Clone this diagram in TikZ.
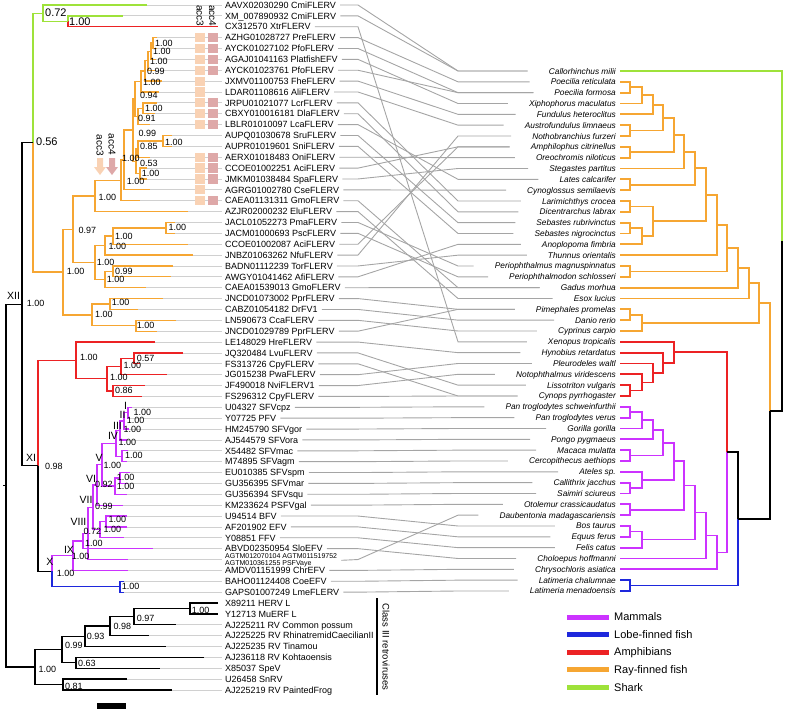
\documentclass[tikz,border=0pt]{standalone}
\usepackage{fontspec}
\setmainfont{Liberation Sans}
\definecolor{grn}{RGB}{158,226,58}
\definecolor{org}{RGB}{246,166,50}
\definecolor{amred}{RGB}{236,34,36}
\definecolor{mag}{RGB}{204,51,255}
\definecolor{blu}{RGB}{30,40,220}
\definecolor{extgray}{RGB}{208,208,208}
\definecolor{conngray}{RGB}{165,165,165}
\definecolor{peach}{RGB}{249,210,180}
\definecolor{pinkbox}{RGB}{222,168,168}
\newcommand\trn[6]{\draw[lt,#1] (#3,#4) -- (#2,#4) -- (#2,#6) -- (#5,#6);}
\newcommand\rtn[6]{\draw[rt,#1] (#3,#4) -- (#2,#4) -- (#2,#6) -- (#5,#6);}
\begin{document}
\begin{tikzpicture}[x=1pt,y=-1pt,
  lt/.style={line width=1.3pt},
  rt/.style={line width=1.8pt},
  ext/.style={draw=extgray, line width=0.8pt},
  conn/.style={draw=conngray, line width=0.9pt},
  lab/.style={font=\fontsize{9}{10}\selectfont, inner sep=0pt, anchor=west, text height=6.5pt, text depth=0pt},
  sp/.style={font=\fontsize{8.3}{9}\selectfont\itshape, inner sep=0pt, anchor=east, text height=6pt, text depth=0pt},
  sup/.style={font=\fontsize{9}{10}\selectfont, inner sep=0pt, anchor=west, text height=6.4pt, text depth=0pt},
  supb/.style={font=\fontsize{11}{12}\selectfont, inner sep=0pt, anchor=west, text height=7.8pt, text depth=0pt},
  rom/.style={font=\fontsize{10.5}{11}\selectfont, inner sep=0pt, text height=7.5pt, text depth=0pt},
  leg/.style={font=\fontsize{11}{12}\selectfont, inner sep=0pt, anchor=west, text height=7.8pt, text depth=0pt},
  vtxt/.style={font=\fontsize{10}{11}\selectfont, inner sep=0pt, rotate=-90, anchor=west, text height=7pt, text depth=0pt}
]
\useasboundingbox (0,0) rectangle (786,715);

% gray tip extensions (left tree)
\foreach \i/\x in {1/147,2/123,4/157,5/157,6/156,7/155,8/162,9/159,10/157,11/155,12/150,13/172,14/172,15/150,16/147,17/147,18/150,19/140,20/188,21/175,22/175,23/188,24/193,25/173,26/171,27/146,28/163,29/138,30/176,31/157,32/155,33/183,34/140,35/167,36/145,37/142,38/132,39/130,40/129,41/127,42/128,43/127,44/130,45/128,46/127,47/123,48/127,49/127,50/124,51/153,52/128,53/128,54/124,55/124,58/176,59/149,60/166,61/204,62/160,63/127,64/172}
  \draw[ext] (\x,{5+(\i-1)*10.873}) -- (222,{5+(\i-1)*10.873});

% left labels
\foreach \i/\t in {1/AAVX02030290 CmiFLERV,2/XM\_007890932 CmiFLERV,3/CX312570 XtrFLERV,4/AZHG01028727 PreFLERV,5/AYCK01027102 PfoFLERV,6/AGAJ01041163 PlatfishEFV,7/AYCK01023761 PfoFLERV,8/JXMV01100753 FheFLERV,9/LDAR01108616 AliFLERV,10/JRPU01021077 LcrFLERV,11/CBXY010016181 DlaFLERV,12/LBLR01010097 LcaFLERV,13/AUPQ01030678 SruFLERV,14/AUPR01019601 SniFLERV,15/AERX01018483 OniFLERV,16/CCOE01002251 AciFLERV,17/JMKM01038484 SpaFLERV,18/AGRG01002780 CseFLERV,19/CAEA01131311 GmoFLERV,20/AZJR02000232 EluFLERV,21/JACL01052273 PmaFLERV,22/JACM01000693 PscFLERV,23/CCOE01002087 AciFLERV,24/JNBZ01063262 NfuFLERV,25/BADN01112239 TorFLERV,26/AWGY01041462 AfiFLERV,27/CAEA01539013 GmoFLERV,28/JNCD01073002 PprFLERV,29/CABZ01054182 DrFV1,30/LN590673 CcaFLERV,31/JNCD01029789 PprFLERV,32/LE148029 HreFLERV,33/JQ320484 LvuFLERV,34/FS313726 CpyFLERV,35/JG015238 PwaFLERV,36/JF490018 NviFLERV1,37/FS296312 CpyFLERV,38/U04327 SFVcpz,39/Y07725 PFV,40/HM245790 SFVgor,41/AJ544579 SFVora,42/X54482 SFVmac,43/M74895 SFVagm,44/EU010385 SFVspm,45/GU356395 SFVmar,46/GU356394 SFVsqu,47/KM233624 PSFVgal,48/U94514 BFV,49/AF201902 EFV,50/Y08851 FFV,51/ABVD02350954 SloEFV,53/AMDV01151999 ChrEFV,54/BAHO01124408 CoeEFV,55/GAPS01007249 LmeFLERV,56/X89211 HERV L,57/Y12713 MuERF L,58/AJ225211 RV Common possum,59/AJ225225 RV RhinatremidCaecilianII,60/AJ225235 RV Tinamou,61/AJ236118 RV Kohtaoensis,62/X85037 SpeV,63/U26458 SnRV,64/AJ225219 RV PaintedFrog}
  \node[lab] (l\i) at (225,{5+(\i-1)*10.873}) {\t};
\node[font=\fontsize{7}{6.3}\selectfont, inner sep=0pt, anchor=west, align=left] (l52) at (225,560.3) {AGTM012070104 AGTM011519752\\AGTM010361255 PSFVaye};

% right labels
\foreach \j/\t in {1/Callorhinchus milii,2/Poecilia reticulata,3/Poecilia formosa,4/Xiphophorus maculatus,5/Fundulus heteroclitus,6/Austrofundulus limnaeus,7/Nothobranchius furzeri,8/Amphilophus citrinellus,9/Oreochromis niloticus,10/Stegastes partitus,11/Lates calcarifer,12/Cynoglossus semilaevis,13/Larimichthys crocea,14/Dicentrarchus labrax,15/Sebastes rubrivinctus,16/Sebastes nigrocinctus,17/Anoplopoma fimbria,18/Thunnus orientalis,19/Periophthalmus magnuspinnatus,20/Periophthalmodon schlosseri,21/Gadus morhua,22/Esox lucius,23/Pimephales promelas,24/Danio rerio,25/Cyprinus carpio,26/Xenopus tropicalis,27/Hynobius retardatus,28/Pleurodeles waltl,29/Notophthalmus viridescens,30/Lissotriton vulgaris,31/Cynops pyrrhogaster,32/Pan troglodytes schweinfurthii,33/Pan troglodytes verus,34/Gorilla gorilla,35/Pongo pygmaeus,36/Macaca mulatta,37/Cercopithecus aethiops,38/Ateles sp.,39/Callithrix jacchus,40/Saimiri sciureus,41/Otolemur crassicaudatus,42/Daubentonia madagascariensis,43/Bos taurus,44/Equus ferus,45/Felis catus,46/Choloepus hoffmanni,47/Chrysochloris asiatica,48/Latimeria chalumnae,49/Latimeria menadoensis}
  \node[sp] (r\j) at (616,{71+(\j-1)*10.833}) {\t};

% tanglegram connectors
\foreach \i/\j in {1/1,2/1,3/26,4/2,5/3,6/4,7/3,8/5,9/6,10/13,11/14,12/11,13/15,14/16,15/9,16/8,17/10,18/12,19/21,20/22,21/19,22/20,23/8,24/7,25/18,26/17,27/21,28/23,29/24,30/25,31/23,32/27,33/30,34/31,35/28,36/29,37/31,38/32,39/33,40/34,41/35,42/36,43/37,44/38,45/39,46/40,47/41,48/43,49/44,50/45,51/46,52/42,53/47,54/48,55/49}
  \draw[conn] ([xshift=4pt]l\i.east) -- (358,{5+(\i-1)*10.873}) -- (458,{71+(\j-1)*10.833}) -- ([xshift=-21pt]r\j.west);

% acc boxes
\foreach \i in {4,5,6,7,8,9,10,11,12,15,16,17,18,19}
  \fill[peach] (195,{5+(\i-1)*10.873-4.6}) rectangle (205,{5+(\i-1)*10.873+4.6});
\foreach \i in {4,5,6,7,10,11,12,15,16,17,19}
  \fill[pinkbox] (208,{5+(\i-1)*10.873-4.6}) rectangle (218,{5+(\i-1)*10.873+4.6});
\node[vtxt] (h3) at (200,5) {acc3};
\node[vtxt] (h4) at (212.5,5) {acc4};
\node[vtxt] (k3) at (100,134.5) {acc3};
\node[vtxt] (k4) at (112,133.5) {acc4};
\fill[peach] (97,158) -- (103,158) -- (103,167) -- (106,167) -- (100,175) -- (94,167) -- (97,167) -- cycle;
\fill[pinkbox] (109,158) -- (115,158) -- (115,167) -- (118,167) -- (112,175) -- (106,167) -- (109,167) -- cycle;

% ---------- left tree ----------
\draw[lt,grn] (123,15.87) -- (68,15.87) -- (68,21.31);
\draw[lt,amred] (68,21.31) -- (68,26.75) -- (218,26.75);
\trn{grn}{43}{147}{5.0}{68}{21.31}
\draw[lt,grn] (43,13.16) -- (33,13.16) -- (33,142.61);
\draw[lt,org] (33,142.61) -- (33,272.07) -- (63,272.07);
% orange
\trn{org}{153}{157}{37.62}{157}{48.49}
\trn{org}{151}{153}{43.06}{156}{59.37}
\trn{org}{148}{151}{51.21}{155}{70.24}
\trn{org}{145}{148}{60.73}{162}{81.11}
\trn{org}{141}{145}{70.92}{159}{91.98}
\trn{org}{143}{157}{102.86}{155}{113.73}
\trn{org}{138}{143}{108.30}{150}{124.60}
\trn{org}{135}{141}{81.45}{138}{116.45}
\trn{org}{163}{172}{135.48}{172}{146.35}
\trn{org}{138}{163}{140.91}{150}{157.22}
\trn{org}{140}{147}{168.10}{147}{178.97}
\trn{org}{136}{138}{149.07}{140}{173.53}
\trn{org}{133}{135}{98.95}{136}{161.30}
\trn{org}{124}{133}{130.13}{150}{189.84}
\trn{org}{121}{124}{159.98}{140}{200.72}
\trn{org}{95}{121}{180.35}{188}{211.59}
\trn{org}{166}{175}{222.46}{175}{233.33}
\trn{org}{113}{166}{227.90}{188}{244.21}
\trn{org}{105}{113}{236.05}{193}{255.08}
\trn{org}{113}{173}{265.95}{171}{276.83}
\trn{org}{105}{113}{271.39}{146}{287.70}
\trn{org}{95}{105}{245.57}{105}{279.54}
\trn{org}{73}{95}{195.97}{95}{262.56}
\trn{org}{110}{163}{298.57}{138}{309.44}
\trn{org}{136}{176}{320.32}{157}{331.19}
\trn{org}{92}{110}{304.01}{136}{325.75}
\trn{org}{63}{73}{229.26}{92}{314.88}
% red
\trn{amred}{134}{183}{352.94}{140}{363.81}
\trn{amred}{121}{134}{358.37}{167}{374.68}
\trn{amred}{113}{145}{385.56}{142}{396.43}
\trn{amred}{107}{121}{366.53}{113}{391.0}
\trn{amred}{76}{155}{342.06}{107}{378.76}
\draw[lt,amred] (76,360.41) -- (38,360.41) -- (38,465.81);
\draw[lt,black] (38,465.81) -- (38,571.21) -- (52,571.21);
% magenta
\trn{mag}{128}{132}{407.30}{130}{418.17}
\trn{mag}{124}{128}{412.74}{129}{429.05}
\trn{mag}{120}{124}{420.89}{127}{439.92}
\trn{mag}{122}{128}{450.79}{127}{461.67}
\trn{mag}{116}{120}{430.41}{122}{456.23}
\trn{mag}{120}{130}{472.54}{128}{483.41}
\trn{mag}{115}{120}{477.98}{127}{494.28}
\trn{mag}{102}{116}{443.32}{115}{486.13}
\trn{mag}{97}{102}{464.72}{123}{505.16}
\trn{mag}{106}{127}{516.03}{127}{526.90}
\trn{mag}{100}{106}{521.47}{124}{537.78}
\trn{mag}{93}{97}{484.94}{100}{529.62}
\trn{mag}{88}{93}{507.28}{128}{559.52}
\trn{mag}{83}{88}{533.40}{153}{548.65}
\trn{mag}{73}{83}{541.03}{128}{570.39}
\draw[lt,mag] (73,555.71) -- (52,555.71) -- (52,571.21);
\draw[lt,blu] (52,571.21) -- (52,586.70) -- (120,586.70);
\trn{blu}{120}{124}{581.27}{124}{592.14}
% black backbone
\draw[lt,black] (33,142.61) -- (22,142.61) -- (22,465.81) -- (38,465.81);
\draw[lt,black] (22,304.21) -- (6,304.21) -- (6,667.07) -- (35,667.07);
\draw[lt,black] (3,485.6) -- (6,485.6);
% class III
\trn{black}{190}{218}{603.01}{218}{613.89}
\trn{black}{134}{190}{608.45}{176}{624.76}
\trn{black}{110}{134}{616.61}{149}{635.63}
\trn{black}{85}{110}{626.12}{166}{646.51}
\trn{black}{76}{204}{657.38}{160}{668.25}
\trn{black}{62}{85}{636.32}{76}{662.82}
\trn{black}{63}{127}{679.12}{172}{690.00}
\trn{black}{35}{62}{649.57}{63}{684.56}

% support values
\foreach \x/\y/\t in {155/43.3/1.00,153/51.7/1.00,150/61/1.00,147/71.7/0.99,143/82.7/1.00,140/95/0.94,145/108.3/1.00,138/118.3/0.91,138.3/133.3/0.99,165/142.7/1.00,140/146.7/0.85,122/157.8/1.00,140/163.2/0.53,141.7/173.3/1.00,126.7/181/1.00,98.3/197.3/1.00,78.3/230/0.97,168.3/227.7/1.00,115/236.7/1.00,108.3/246/1.00,96.7/262.7/1.00,115/271.7/0.99,106.7/279.3/1.00,66.7/271.7/1.00,26.7/303.3/1.00,111.7/302.3/1.00,95/314/1.00,136.7/325/1.00,80/357.7/1.00,136.7/358.3/0.57,123.3/365/1.00,110/377.3/1.00,115/390/0.86,45/466/0.98,133.3/412.7/1.00,126.7/420.7/1.00,123.3/429.3/1.00,118.3/442.7/1.00,125/455/1.00,103.3/465/1.00,116.7/476.8/1.00,95/484/0.92,116.7/486.6/1.00,95/506.7/0.99,108.3/519.3/1.00,83.3/531.7/0.72,103.3/529.3/1.00,85/543.3/1.00,71.7/556/1.00,56.7/573.3/1.00,121.7/586/1.00,191.7/610/1.00,136.7/618.3/0.97,113.3/626.7/0.98,86.7/636/0.93,65/645/0.99,78/663/0.63,38.3/669/1.00,65/686/0.81}
  \node[sup] at (\x,\y) {\t};
\node[supb] (s72) at (45,12.5) {0.72};
\node[supb] (s100) at (69,21.8) {1.00};
\node[supb] (s56) at (36,141.5) {0.56};

% roman numerals
\foreach \x/\y/\t in {13.5/295.5/XII,31/458/XI,50/562/X,69/549.5/IX,78.5/522/VIII,86/500/VII,91/478.5/VI,99/457.5/V,113/436/IV,117.5/425.5/III,122.5/415/II,125.5/406/I}
  \node[rom] at (\x,\y) {\t};

% class III bracket
\draw[line width=1.5pt] (377,598) -- (377,695);
\node[font=\fontsize{9.5}{10}\selectfont, inner sep=0pt, rotate=-90, text height=6.8pt, text depth=0pt] (c3lab) at (386,647) {Class III retroviruses};

% scale bar
\fill (97,703) rectangle (126,709);

% ---------- right tree ----------
\rtn{org}{630}{620}{81.83}{620}{92.67}
\rtn{org}{642}{630}{87.25}{620}{103.5}
\rtn{org}{653}{642}{95.38}{620}{114.33}
\rtn{org}{630}{620}{125.17}{620}{136.0}
\rtn{org}{663}{653}{104.85}{630}{130.58}
\rtn{org}{630}{620}{146.83}{620}{157.67}
\rtn{org}{674}{663}{117.72}{630}{152.25}
\rtn{org}{684}{674}{134.98}{620}{168.5}
\rtn{org}{630}{620}{179.33}{620}{190.17}
\rtn{org}{695}{684}{151.74}{630}{184.75}
\rtn{org}{630}{620}{201.0}{620}{211.83}
\rtn{org}{630}{620}{222.67}{620}{233.5}
\rtn{org}{642}{630}{228.08}{620}{244.33}
\rtn{org}{653}{630}{206.42}{642}{236.21}
\rtn{org}{706}{695}{168.25}{653}{221.31}
\rtn{org}{717}{706}{194.78}{620}{255.17}
\rtn{org}{630}{620}{266.0}{620}{276.83}
\rtn{org}{727}{717}{224.97}{630}{271.42}
\rtn{org}{738}{727}{248.19}{620}{287.67}
\rtn{org}{749}{738}{267.93}{620}{298.5}
\rtn{org}{630}{620}{309.33}{620}{320.17}
\rtn{org}{642}{630}{314.75}{620}{331.0}
\rtn{org}{759}{749}{283.22}{642}{322.88}
\rtn{amred}{630}{620}{385.17}{620}{396.0}
\rtn{amred}{642}{620}{374.33}{630}{390.58}
\rtn{amred}{653}{620}{363.5}{642}{382.46}
\rtn{amred}{663}{620}{352.67}{653}{372.98}
\rtn{amred}{674}{620}{341.83}{663}{362.83}
\rtn{mag}{630}{620}{406.83}{620}{417.67}
\rtn{mag}{642}{630}{412.25}{620}{428.5}
\rtn{mag}{653}{642}{420.38}{620}{439.33}
\rtn{mag}{630}{620}{450.17}{620}{461.0}
\rtn{mag}{663}{653}{429.85}{630}{455.58}
\rtn{mag}{630}{620}{482.67}{620}{493.5}
\rtn{mag}{642}{620}{471.83}{630}{488.08}
\rtn{mag}{674}{663}{442.72}{642}{479.96}
\rtn{mag}{630}{620}{504.33}{620}{515.17}
\rtn{mag}{684}{674}{461.34}{630}{509.75}
\rtn{mag}{630}{620}{526.0}{620}{536.83}
\rtn{mag}{642}{630}{531.42}{620}{547.67}
\rtn{mag}{695}{684}{485.54}{642}{539.54}
\rtn{mag}{706}{695}{512.54}{620}{558.5}
\rtn{mag}{717}{706}{535.52}{620}{569.33}
\rtn{blu}{630}{620}{580.17}{620}{591.0}
\draw[rt,amred] (674,352.33) -- (727,352.33) -- (727,452.38);
\draw[rt,mag] (727,452.38) -- (727,552.43) -- (717,552.43);
\draw[rt,black] (727,452.38) -- (738,452.38) -- (738,518.98);
\draw[rt,blu] (738,518.98) -- (738,585.58) -- (630,585.58);
\draw[rt,org] (759,303.05) -- (770,303.05) -- (770,411.02);
\draw[rt,black] (770,411.02) -- (770,518.98) -- (738,518.98);
\draw[rt,grn] (620,71) -- (782,71) -- (782,241.01);
\draw[rt,black] (782,241.01) -- (782,411.02) -- (770,411.02);

% legend
\foreach \y/\c/\t in {617/mag/Mammals,634.3/blu/Lobe-finned fish,652/amred/Amphibians,669.7/org/Ray-finned fish,687.3/grn/Shark}
  {\draw[line width=5pt,\c] (567,\y) -- (609,\y);
   \node[leg] at (614,\y) {\t};}
\end{tikzpicture}
\end{document}
